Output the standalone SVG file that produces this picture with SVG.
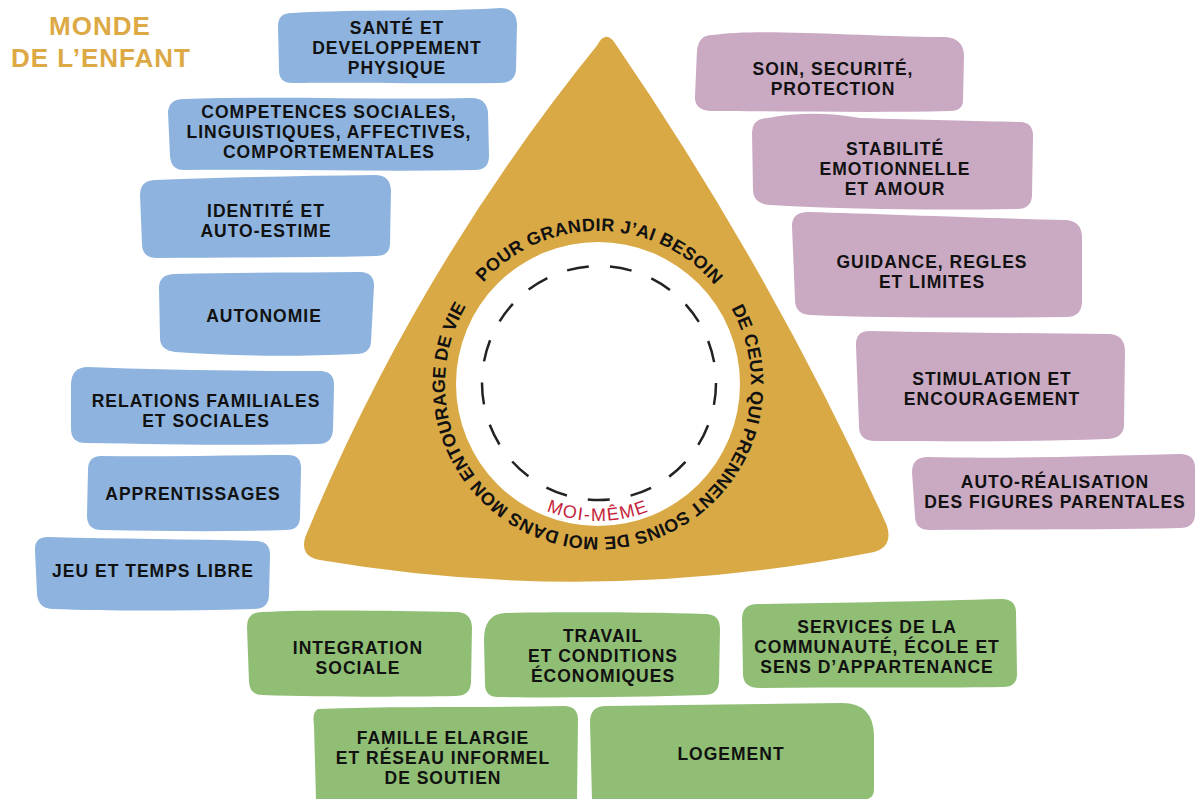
<svg xmlns="http://www.w3.org/2000/svg" width="1203" height="799" viewBox="0 0 1203 799">
<style>
.blue{fill:#8DB3DE}
.purple{fill:#CAA9C3}
.green{fill:#8FBE74}
.lbl{font-family:"Liberation Sans",Arial,sans-serif;font-weight:bold;font-size:17.5px;fill:#111;text-anchor:middle;letter-spacing:1px}
.title{font-family:"Liberation Sans",Arial,sans-serif;font-weight:bold;font-size:26px;fill:#DCA945;text-anchor:middle;letter-spacing:1px}
.ring{font-family:"Liberation Sans",Arial,sans-serif;font-weight:bold;font-size:18px;fill:#111;text-anchor:middle}
.moi{font-family:"Liberation Sans",Arial,sans-serif;font-size:18px;fill:#C41E3A;text-anchor:middle;letter-spacing:1.5px}
</style>
<defs>
<path id="ringPath" d="M 474.2 294 A 153 153 0 0 1 721.8 474 A 153 153 0 0 1 474.2 294"/>
<path id="moiPath" d="M 461 384 A 137 137 0 0 0 735 384"/>
</defs>
<rect width="1203" height="799" fill="#ffffff"/>

<g id="title">
<text class="title" x="100" y="35">MONDE</text>
<text class="title" x="101" y="67">DE L’ENFANT</text>
</g>

<g id="center">
<path d="M 598 46 Q 606 30 615 45 Q 772 274 886 526 Q 892 546 874 551 Q 597 606 320 559 Q 301 556 306 538 Q 416 271 598 46 Z" fill="#D9A946" stroke="#D9A946" stroke-width="2" stroke-linejoin="round"/>
<circle cx="598" cy="384" r="142" fill="#ffffff"/>
<circle cx="599" cy="383" r="117" fill="none" stroke="#222" stroke-width="2.5" stroke-dasharray="22 21.24"/>
<text class="ring" style="letter-spacing:0.4px"><textPath href="#ringPath" startOffset="146">POUR GRANDIR J’AI BESOIN</textPath></text>
<text class="ring" style="letter-spacing:0.05px"><textPath href="#ringPath" startOffset="626">DE CEUX QUI PRENNENT SOINS DE MOI DANS MON ENTOURAGE DE VIE</textPath></text>
<text class="moi"><textPath href="#moiPath" startOffset="50%">MOI-MÊME</textPath></text>
</g>

<g id="sante">
<path class="blue" d="M 292 13 C 360 9 440 12 500 8 Q 516 8 517 24 L 516 70 Q 515 83 500 83 C 430 84 350 82 292 83 Q 279 83 279 70 L 278 26 Q 278 13 292 13 Z"/>
<text class="lbl" x="397" y="34">SANTÉ ET</text>
<text class="lbl" x="397" y="54">DEVELOPPEMENT</text>
<text class="lbl" x="397" y="74">PHYSIQUE</text>
</g>
<g id="competences">
<path class="blue" d="M 184 99 C 280 96 380 100 472 98 Q 486 98 488 112 L 489 156 Q 489 170 475 170 C 380 172 280 169 184 170 Q 171 170 170 156 L 168 112 Q 169 99 184 99 Z"/>
<text class="lbl" x="329" y="118">COMPETENCES SOCIALES,</text>
<text class="lbl" x="329" y="138">LINGUISTIQUES, AFFECTIVES,</text>
<text class="lbl" x="329" y="158">COMPORTEMENTALES</text>
</g>
<g id="identite">
<path class="blue" d="M 156 180 C 230 177 300 176 375 175 Q 390 175 391 190 L 390 243 Q 390 256 376 256 C 300 258 230 257 157 258 Q 142 258 142 244 L 140 195 Q 140 180 156 180 Z"/>
<text class="lbl" x="266" y="217">IDENTITÉ ET</text>
<text class="lbl" x="266" y="237">AUTO-ESTIME</text>
</g>
<g id="autonomie">
<path class="blue" d="M 175 274 C 240 272 300 273 360 272 Q 374 272 374 286 L 371 342 Q 370 354 356 354 C 290 357 230 356 175 352 Q 160 350 160 338 L 159 288 Q 159 274 175 274 Z"/>
<text class="lbl" x="264" y="322">AUTONOMIE</text>
</g>
<g id="relations">
<path class="blue" d="M 88 367 C 160 370 250 371 320 371 Q 334 371 334 385 L 333 430 Q 332 444 318 444 C 240 446 160 444 86 443 Q 71 443 71 429 L 71 385 Q 71 367 88 367 Z"/>
<text class="lbl" x="206" y="407">RELATIONS FAMILIALES</text>
<text class="lbl" x="206" y="427">ET SOCIALES</text>
</g>
<g id="apprentissages">
<path class="blue" d="M 101 456 C 160 457 230 455 288 455 Q 302 455 301 470 L 300 517 Q 300 530 286 530 C 220 532 160 531 102 530 Q 87 530 87 516 L 88 470 Q 88 456 101 456 Z"/>
<text class="lbl" x="193" y="500">APPRENTISSAGES</text>
</g>
<g id="jeu">
<path class="blue" d="M 48 537 C 120 539 190 539 256 541 Q 270 541 270 555 L 269 596 Q 268 609 254 609 C 180 611 110 611 52 609 Q 38 608 37 594 L 35 551 Q 34 537 48 537 Z"/>
<text class="lbl" x="153" y="577">JEU ET TEMPS LIBRE</text>
</g>

<g id="soin">
<path class="purple" d="M 712 35 C 760 28 850 36 945 37 Q 963 38 964 55 L 963 100 Q 963 111 950 111 C 870 113 780 111 710 111 Q 694 110 695 96 L 697 50 Q 699 35 712 35 Z"/>
<text class="lbl" x="833" y="75">SOIN, SECURITÉ,</text>
<text class="lbl" x="833" y="95">PROTECTION</text>
</g>
<g id="stabilite">
<path class="purple" d="M 768 118 C 800 112 830 113 860 118 C 920 120 980 121 1020 122 Q 1033 122 1033 136 L 1032 196 Q 1031 209 1017 209 C 940 210 860 210 770 205 Q 753 204 753 190 L 752 132 Q 753 118 768 118 Z"/>
<text class="lbl" x="895" y="155">STABILITÉ</text>
<text class="lbl" x="895" y="175">EMOTIONNELLE</text>
<text class="lbl" x="895" y="195">ET AMOUR</text>
</g>
<g id="guidance">
<path class="purple" d="M 808 212 C 880 214 980 218 1066 220 Q 1081 221 1082 236 L 1082 303 Q 1081 317 1066 317 C 980 318 880 318 810 315 Q 795 314 795 300 L 792 226 Q 792 212 808 212 Z"/>
<text class="lbl" x="932" y="268">GUIDANCE, REGLES</text>
<text class="lbl" x="932" y="288">ET LIMITES</text>
</g>
<g id="stimulation">
<path class="purple" d="M 870 331 C 950 333 1030 333 1108 334 Q 1124 334 1125 350 L 1124 426 Q 1123 438 1108 439 C 1030 442 950 441 875 441 Q 859 441 859 426 L 856 346 Q 855 331 870 331 Z"/>
<text class="lbl" x="992" y="385">STIMULATION ET</text>
<text class="lbl" x="992" y="405">ENCOURAGEMENT</text>
</g>
<g id="autorealisation">
<path class="purple" d="M 928 457 C 1000 459 1100 456 1180 454 Q 1195 454 1195 468 L 1195 515 Q 1194 528 1180 528 C 1100 530 1010 529 930 530 Q 915 530 915 516 L 912 472 Q 912 457 928 457 Z"/>
<text class="lbl" x="1055" y="488">AUTO-RÉALISATION</text>
<text class="lbl" x="1055" y="508">DES FIGURES PARENTALES</text>
</g>

<g id="integration">
<path class="green" d="M 262 612 C 320 609 400 611 456 612 Q 471 612 472 627 L 471 683 Q 470 696 455 696 C 400 697 320 697 262 695 Q 250 695 249 682 L 247 627 Q 247 612 262 612 Z"/>
<text class="lbl" x="358" y="654">INTEGRATION</text>
<text class="lbl" x="358" y="674">SOCIALE</text>
</g>
<g id="travail">
<path class="green" d="M 505 613 C 560 612 640 612 705 614 Q 720 614 720 629 L 719 682 Q 718 695 704 695 C 640 697 560 698 498 697 Q 485 697 485 684 L 484 640 Q 484 614 505 613 Z"/>
<text class="lbl" x="603" y="642">TRAVAIL</text>
<text class="lbl" x="603" y="662">ET CONDITIONS</text>
<text class="lbl" x="603" y="682">ÉCONOMIQUES</text>
</g>
<g id="services">
<path class="green" d="M 758 604 C 840 603 930 601 1002 599 Q 1016 599 1016 613 L 1017 674 Q 1017 687 1003 687 C 930 688 840 687 760 688 Q 743 688 743 674 L 742 619 Q 742 604 758 604 Z"/>
<text class="lbl" x="877" y="633">SERVICES DE LA</text>
<text class="lbl" x="877" y="653">COMMUNAUTÉ, ÉCOLE ET</text>
<text class="lbl" x="877" y="673">SENS D’APPARTENANCE</text>
</g>
<g id="famille">
<path class="green" d="M 318 709 C 400 706 480 708 564 706 Q 578 706 578 720 L 577 800 L 316 800 L 314 725 Q 312 712 318 709 Z"/>
<text class="lbl" x="443" y="744">FAMILLE ELARGIE</text>
<text class="lbl" x="443" y="764">ET RÉSEAU INFORMEL</text>
<text class="lbl" x="443" y="784">DE SOUTIEN</text>
</g>
<g id="logement">
<path class="green" d="M 606 706 C 680 705 760 704 842 703 Q 873 703 874 735 L 874 790 Q 874 800 860 800 L 592 800 L 590 722 Q 590 706 606 706 Z"/>
<text class="lbl" x="731" y="760">LOGEMENT</text>
</g>
<g id="connectors"></g>
</svg>
